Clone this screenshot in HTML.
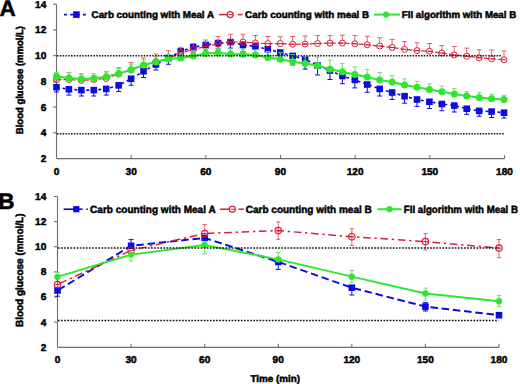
<!DOCTYPE html>
<html><head><meta charset="utf-8"><style>
html,body{margin:0;padding:0;background:#fff;width:520px;height:384px;overflow:hidden}
svg{display:block}
text{text-rendering:geometricPrecision;font-family:"Liberation Sans",sans-serif;font-weight:bold;stroke:#000;stroke-width:0.5px}
</style></head><body>
<svg width="520" height="384" viewBox="0 0 520 384">
<rect width="520" height="384" fill="#fff"/>
<text x="-0.5" y="15.7" font-size="22.5">A</text>
<text transform="translate(23.20,133.50) rotate(-90)" x="-0.64" y="0" font-size="10.0" textLength="108.11" lengthAdjust="spacingAndGlyphs">Blood glucose (mmol/L)</text>
<line x1="56.5" y1="4.2" x2="56.5" y2="158.6" stroke="#6e6e6e" stroke-width="1.1"/>
<line x1="56.5" y1="158.6" x2="504.5" y2="158.6" stroke="#6e6e6e" stroke-width="1.3"/>
<line x1="53.0" y1="4.2" x2="56.5" y2="4.2" stroke="#6e6e6e" stroke-width="1.1"/>
<line x1="53.0" y1="29.919999999999998" x2="56.5" y2="29.919999999999998" stroke="#6e6e6e" stroke-width="1.1"/>
<line x1="53.0" y1="55.64" x2="56.5" y2="55.64" stroke="#6e6e6e" stroke-width="1.1"/>
<line x1="53.0" y1="81.36" x2="56.5" y2="81.36" stroke="#6e6e6e" stroke-width="1.1"/>
<line x1="53.0" y1="107.08" x2="56.5" y2="107.08" stroke="#6e6e6e" stroke-width="1.1"/>
<line x1="53.0" y1="132.79999999999998" x2="56.5" y2="132.79999999999998" stroke="#6e6e6e" stroke-width="1.1"/>
<text x="46.3" y="7.65" text-anchor="end" font-size="9.9" textLength="11.22" lengthAdjust="spacingAndGlyphs">14</text>
<text x="46.3" y="33.37" text-anchor="end" font-size="9.9" textLength="11.22" lengthAdjust="spacingAndGlyphs">12</text>
<text x="46.3" y="59.09" text-anchor="end" font-size="9.9" textLength="11.22" lengthAdjust="spacingAndGlyphs">10</text>
<text x="46.3" y="84.81" text-anchor="end" font-size="9.9" textLength="5.61" lengthAdjust="spacingAndGlyphs">8</text>
<text x="46.3" y="110.53" text-anchor="end" font-size="9.9" textLength="5.61" lengthAdjust="spacingAndGlyphs">6</text>
<text x="46.3" y="136.25" text-anchor="end" font-size="9.9" textLength="5.61" lengthAdjust="spacingAndGlyphs">4</text>
<text x="46.3" y="161.97" text-anchor="end" font-size="9.9" textLength="5.61" lengthAdjust="spacingAndGlyphs">2</text>
<text x="56.50" y="175" text-anchor="middle" font-size="9.9" textLength="5.61" lengthAdjust="spacingAndGlyphs">0</text>
<line x1="131.17" y1="155.1" x2="131.17" y2="158.6" stroke="#6e6e6e" stroke-width="1.1"/>
<text x="131.17" y="175" text-anchor="middle" font-size="9.9" textLength="11.22" lengthAdjust="spacingAndGlyphs">30</text>
<line x1="205.83" y1="155.1" x2="205.83" y2="158.6" stroke="#6e6e6e" stroke-width="1.1"/>
<text x="205.83" y="175" text-anchor="middle" font-size="9.9" textLength="11.22" lengthAdjust="spacingAndGlyphs">60</text>
<line x1="280.50" y1="155.1" x2="280.50" y2="158.6" stroke="#6e6e6e" stroke-width="1.1"/>
<text x="280.50" y="175" text-anchor="middle" font-size="9.9" textLength="11.22" lengthAdjust="spacingAndGlyphs">90</text>
<line x1="355.17" y1="155.1" x2="355.17" y2="158.6" stroke="#6e6e6e" stroke-width="1.1"/>
<text x="355.17" y="175" text-anchor="middle" font-size="9.9" textLength="16.83" lengthAdjust="spacingAndGlyphs">120</text>
<line x1="429.83" y1="155.1" x2="429.83" y2="158.6" stroke="#6e6e6e" stroke-width="1.1"/>
<text x="429.83" y="175" text-anchor="middle" font-size="9.9" textLength="16.83" lengthAdjust="spacingAndGlyphs">150</text>
<line x1="504.50" y1="155.1" x2="504.50" y2="158.6" stroke="#6e6e6e" stroke-width="1.1"/>
<text x="504.50" y="175" text-anchor="middle" font-size="9.9" textLength="16.83" lengthAdjust="spacingAndGlyphs">180</text>
<line x1="56.50" y1="87.20" x2="56.50" y2="92.00" stroke="#0c0ce0" stroke-width="1"/>
<line x1="54.00" y1="92.00" x2="59.00" y2="92.00" stroke="#0c0ce0" stroke-width="1"/>
<line x1="68.93" y1="89.30" x2="68.93" y2="95.10" stroke="#0c0ce0" stroke-width="1"/>
<line x1="66.43" y1="95.10" x2="71.43" y2="95.10" stroke="#0c0ce0" stroke-width="1"/>
<line x1="81.36" y1="90.10" x2="81.36" y2="96.00" stroke="#0c0ce0" stroke-width="1"/>
<line x1="78.86" y1="96.00" x2="83.86" y2="96.00" stroke="#0c0ce0" stroke-width="1"/>
<line x1="93.79" y1="90.10" x2="93.79" y2="96.00" stroke="#0c0ce0" stroke-width="1"/>
<line x1="91.29" y1="96.00" x2="96.29" y2="96.00" stroke="#0c0ce0" stroke-width="1"/>
<line x1="106.22" y1="88.90" x2="106.22" y2="95.10" stroke="#0c0ce0" stroke-width="1"/>
<line x1="103.72" y1="95.10" x2="108.72" y2="95.10" stroke="#0c0ce0" stroke-width="1"/>
<line x1="118.65" y1="85.30" x2="118.65" y2="91.50" stroke="#0c0ce0" stroke-width="1"/>
<line x1="116.15" y1="91.50" x2="121.15" y2="91.50" stroke="#0c0ce0" stroke-width="1"/>
<line x1="131.08" y1="78.75" x2="131.08" y2="85.25" stroke="#0c0ce0" stroke-width="1"/>
<line x1="128.58" y1="85.25" x2="133.58" y2="85.25" stroke="#0c0ce0" stroke-width="1"/>
<line x1="143.51" y1="71.25" x2="143.51" y2="77.50" stroke="#0c0ce0" stroke-width="1"/>
<line x1="141.01" y1="77.50" x2="146.01" y2="77.50" stroke="#0c0ce0" stroke-width="1"/>
<line x1="155.94" y1="64.50" x2="155.94" y2="70.00" stroke="#0c0ce0" stroke-width="1"/>
<line x1="153.44" y1="70.00" x2="158.44" y2="70.00" stroke="#0c0ce0" stroke-width="1"/>
<line x1="168.38" y1="58.00" x2="168.38" y2="64.25" stroke="#0c0ce0" stroke-width="1"/>
<line x1="165.88" y1="64.25" x2="170.88" y2="64.25" stroke="#0c0ce0" stroke-width="1"/>
<line x1="180.81" y1="51.40" x2="180.81" y2="57.40" stroke="#0c0ce0" stroke-width="1"/>
<line x1="178.31" y1="57.40" x2="183.31" y2="57.40" stroke="#0c0ce0" stroke-width="1"/>
<line x1="193.24" y1="47.25" x2="193.24" y2="53.25" stroke="#0c0ce0" stroke-width="1"/>
<line x1="190.74" y1="53.25" x2="195.74" y2="53.25" stroke="#0c0ce0" stroke-width="1"/>
<line x1="205.67" y1="45.00" x2="205.67" y2="51.00" stroke="#0c0ce0" stroke-width="1"/>
<line x1="203.17" y1="51.00" x2="208.17" y2="51.00" stroke="#0c0ce0" stroke-width="1"/>
<line x1="218.10" y1="43.00" x2="218.10" y2="49.00" stroke="#0c0ce0" stroke-width="1"/>
<line x1="215.60" y1="49.00" x2="220.60" y2="49.00" stroke="#0c0ce0" stroke-width="1"/>
<line x1="230.53" y1="42.10" x2="230.53" y2="48.10" stroke="#0c0ce0" stroke-width="1"/>
<line x1="228.03" y1="48.10" x2="233.03" y2="48.10" stroke="#0c0ce0" stroke-width="1"/>
<line x1="242.96" y1="45.00" x2="242.96" y2="51.50" stroke="#0c0ce0" stroke-width="1"/>
<line x1="240.46" y1="51.50" x2="245.46" y2="51.50" stroke="#0c0ce0" stroke-width="1"/>
<line x1="255.39" y1="46.40" x2="255.39" y2="53.40" stroke="#0c0ce0" stroke-width="1"/>
<line x1="252.89" y1="53.40" x2="257.89" y2="53.40" stroke="#0c0ce0" stroke-width="1"/>
<line x1="267.82" y1="49.20" x2="267.82" y2="56.70" stroke="#0c0ce0" stroke-width="1"/>
<line x1="265.32" y1="56.70" x2="270.32" y2="56.70" stroke="#0c0ce0" stroke-width="1"/>
<line x1="280.25" y1="52.50" x2="280.25" y2="61.00" stroke="#0c0ce0" stroke-width="1"/>
<line x1="277.75" y1="61.00" x2="282.75" y2="61.00" stroke="#0c0ce0" stroke-width="1"/>
<line x1="292.68" y1="55.90" x2="292.68" y2="64.90" stroke="#0c0ce0" stroke-width="1"/>
<line x1="290.18" y1="64.90" x2="295.18" y2="64.90" stroke="#0c0ce0" stroke-width="1"/>
<line x1="305.11" y1="59.30" x2="305.11" y2="69.10" stroke="#0c0ce0" stroke-width="1"/>
<line x1="302.61" y1="69.10" x2="307.61" y2="69.10" stroke="#0c0ce0" stroke-width="1"/>
<line x1="317.54" y1="65.50" x2="317.54" y2="75.00" stroke="#0c0ce0" stroke-width="1"/>
<line x1="315.04" y1="75.00" x2="320.04" y2="75.00" stroke="#0c0ce0" stroke-width="1"/>
<line x1="329.97" y1="70.50" x2="329.97" y2="79.50" stroke="#0c0ce0" stroke-width="1"/>
<line x1="327.47" y1="79.50" x2="332.47" y2="79.50" stroke="#0c0ce0" stroke-width="1"/>
<line x1="342.40" y1="76.00" x2="342.40" y2="83.75" stroke="#0c0ce0" stroke-width="1"/>
<line x1="339.90" y1="83.75" x2="344.90" y2="83.75" stroke="#0c0ce0" stroke-width="1"/>
<line x1="354.83" y1="79.90" x2="354.83" y2="87.90" stroke="#0c0ce0" stroke-width="1"/>
<line x1="352.33" y1="87.90" x2="357.33" y2="87.90" stroke="#0c0ce0" stroke-width="1"/>
<line x1="367.26" y1="84.50" x2="367.26" y2="92.25" stroke="#0c0ce0" stroke-width="1"/>
<line x1="364.76" y1="92.25" x2="369.76" y2="92.25" stroke="#0c0ce0" stroke-width="1"/>
<line x1="379.69" y1="88.90" x2="379.69" y2="96.00" stroke="#0c0ce0" stroke-width="1"/>
<line x1="377.19" y1="96.00" x2="382.19" y2="96.00" stroke="#0c0ce0" stroke-width="1"/>
<line x1="392.12" y1="92.50" x2="392.12" y2="99.50" stroke="#0c0ce0" stroke-width="1"/>
<line x1="389.62" y1="99.50" x2="394.62" y2="99.50" stroke="#0c0ce0" stroke-width="1"/>
<line x1="404.56" y1="96.20" x2="404.56" y2="103.20" stroke="#0c0ce0" stroke-width="1"/>
<line x1="402.06" y1="103.20" x2="407.06" y2="103.20" stroke="#0c0ce0" stroke-width="1"/>
<line x1="416.99" y1="99.50" x2="416.99" y2="106.40" stroke="#0c0ce0" stroke-width="1"/>
<line x1="414.49" y1="106.40" x2="419.49" y2="106.40" stroke="#0c0ce0" stroke-width="1"/>
<line x1="429.42" y1="101.80" x2="429.42" y2="108.50" stroke="#0c0ce0" stroke-width="1"/>
<line x1="426.92" y1="108.50" x2="431.92" y2="108.50" stroke="#0c0ce0" stroke-width="1"/>
<line x1="441.85" y1="104.00" x2="441.85" y2="110.75" stroke="#0c0ce0" stroke-width="1"/>
<line x1="439.35" y1="110.75" x2="444.35" y2="110.75" stroke="#0c0ce0" stroke-width="1"/>
<line x1="454.28" y1="105.60" x2="454.28" y2="112.00" stroke="#0c0ce0" stroke-width="1"/>
<line x1="451.78" y1="112.00" x2="456.78" y2="112.00" stroke="#0c0ce0" stroke-width="1"/>
<line x1="466.71" y1="108.75" x2="466.71" y2="114.40" stroke="#0c0ce0" stroke-width="1"/>
<line x1="464.21" y1="114.40" x2="469.21" y2="114.40" stroke="#0c0ce0" stroke-width="1"/>
<line x1="479.14" y1="110.90" x2="479.14" y2="116.25" stroke="#0c0ce0" stroke-width="1"/>
<line x1="476.64" y1="116.25" x2="481.64" y2="116.25" stroke="#0c0ce0" stroke-width="1"/>
<line x1="491.57" y1="111.60" x2="491.57" y2="117.50" stroke="#0c0ce0" stroke-width="1"/>
<line x1="489.07" y1="117.50" x2="494.07" y2="117.50" stroke="#0c0ce0" stroke-width="1"/>
<line x1="504.00" y1="112.70" x2="504.00" y2="118.10" stroke="#0c0ce0" stroke-width="1"/>
<line x1="501.50" y1="118.10" x2="506.50" y2="118.10" stroke="#0c0ce0" stroke-width="1"/>
<polyline points="56.50,87.20 68.93,89.30 81.36,90.10 93.79,90.10 106.22,88.90 118.65,85.30 131.08,78.75 143.51,71.25 155.94,64.50 168.38,58.00 180.81,51.40 193.24,47.25 205.67,45.00 218.10,43.00 230.53,42.10 242.96,45.00 255.39,46.40 267.82,49.20 280.25,52.50 292.68,55.90 305.11,59.30 317.54,65.50 329.97,70.50 342.40,76.00 354.83,79.90 367.26,84.50 379.69,88.90 392.12,92.50 404.56,96.20 416.99,99.50 429.42,101.80 441.85,104.00 454.28,105.60 466.71,108.75 479.14,110.90 491.57,111.60 504.00,112.70" fill="none" stroke="#0c0ce0" stroke-width="1.6" stroke-dasharray="3 3"/>
<rect x="53.20" y="83.90" width="6.6" height="6.6" fill="#0c0ce0"/>
<rect x="65.63" y="86.00" width="6.6" height="6.6" fill="#0c0ce0"/>
<rect x="78.06" y="86.80" width="6.6" height="6.6" fill="#0c0ce0"/>
<rect x="90.49" y="86.80" width="6.6" height="6.6" fill="#0c0ce0"/>
<rect x="102.92" y="85.60" width="6.6" height="6.6" fill="#0c0ce0"/>
<rect x="115.35" y="82.00" width="6.6" height="6.6" fill="#0c0ce0"/>
<rect x="127.78" y="75.45" width="6.6" height="6.6" fill="#0c0ce0"/>
<rect x="140.21" y="67.95" width="6.6" height="6.6" fill="#0c0ce0"/>
<rect x="152.64" y="61.20" width="6.6" height="6.6" fill="#0c0ce0"/>
<rect x="165.07" y="54.70" width="6.6" height="6.6" fill="#0c0ce0"/>
<rect x="177.51" y="48.10" width="6.6" height="6.6" fill="#0c0ce0"/>
<rect x="189.94" y="43.95" width="6.6" height="6.6" fill="#0c0ce0"/>
<rect x="202.37" y="41.70" width="6.6" height="6.6" fill="#0c0ce0"/>
<rect x="214.80" y="39.70" width="6.6" height="6.6" fill="#0c0ce0"/>
<rect x="227.23" y="38.80" width="6.6" height="6.6" fill="#0c0ce0"/>
<rect x="239.66" y="41.70" width="6.6" height="6.6" fill="#0c0ce0"/>
<rect x="252.09" y="43.10" width="6.6" height="6.6" fill="#0c0ce0"/>
<rect x="264.52" y="45.90" width="6.6" height="6.6" fill="#0c0ce0"/>
<rect x="276.95" y="49.20" width="6.6" height="6.6" fill="#0c0ce0"/>
<rect x="289.38" y="52.60" width="6.6" height="6.6" fill="#0c0ce0"/>
<rect x="301.81" y="56.00" width="6.6" height="6.6" fill="#0c0ce0"/>
<rect x="314.24" y="62.20" width="6.6" height="6.6" fill="#0c0ce0"/>
<rect x="326.67" y="67.20" width="6.6" height="6.6" fill="#0c0ce0"/>
<rect x="339.10" y="72.70" width="6.6" height="6.6" fill="#0c0ce0"/>
<rect x="351.53" y="76.60" width="6.6" height="6.6" fill="#0c0ce0"/>
<rect x="363.96" y="81.20" width="6.6" height="6.6" fill="#0c0ce0"/>
<rect x="376.39" y="85.60" width="6.6" height="6.6" fill="#0c0ce0"/>
<rect x="388.82" y="89.20" width="6.6" height="6.6" fill="#0c0ce0"/>
<rect x="401.26" y="92.90" width="6.6" height="6.6" fill="#0c0ce0"/>
<rect x="413.69" y="96.20" width="6.6" height="6.6" fill="#0c0ce0"/>
<rect x="426.12" y="98.50" width="6.6" height="6.6" fill="#0c0ce0"/>
<rect x="438.55" y="100.70" width="6.6" height="6.6" fill="#0c0ce0"/>
<rect x="450.98" y="102.30" width="6.6" height="6.6" fill="#0c0ce0"/>
<rect x="463.41" y="105.45" width="6.6" height="6.6" fill="#0c0ce0"/>
<rect x="475.84" y="107.60" width="6.6" height="6.6" fill="#0c0ce0"/>
<rect x="488.27" y="108.30" width="6.6" height="6.6" fill="#0c0ce0"/>
<rect x="500.70" y="109.40" width="6.6" height="6.6" fill="#0c0ce0"/>
<line x1="56.50" y1="76.75" x2="56.50" y2="74.00" stroke="#e0505f" stroke-width="0.9"/>
<line x1="54.00" y1="74.00" x2="59.00" y2="74.00" stroke="#e0505f" stroke-width="0.9"/>
<line x1="68.93" y1="76.50" x2="68.93" y2="72.60" stroke="#e0505f" stroke-width="0.9"/>
<line x1="66.43" y1="72.60" x2="71.43" y2="72.60" stroke="#e0505f" stroke-width="0.9"/>
<line x1="81.36" y1="77.40" x2="81.36" y2="73.90" stroke="#e0505f" stroke-width="0.9"/>
<line x1="78.86" y1="73.90" x2="83.86" y2="73.90" stroke="#e0505f" stroke-width="0.9"/>
<line x1="93.79" y1="76.50" x2="93.79" y2="73.50" stroke="#e0505f" stroke-width="0.9"/>
<line x1="91.29" y1="73.50" x2="96.29" y2="73.50" stroke="#e0505f" stroke-width="0.9"/>
<line x1="106.22" y1="75.50" x2="106.22" y2="71.75" stroke="#e0505f" stroke-width="0.9"/>
<line x1="103.72" y1="71.75" x2="108.72" y2="71.75" stroke="#e0505f" stroke-width="0.9"/>
<line x1="118.65" y1="71.00" x2="118.65" y2="67.80" stroke="#e0505f" stroke-width="0.9"/>
<line x1="116.15" y1="67.80" x2="121.15" y2="67.80" stroke="#e0505f" stroke-width="0.9"/>
<line x1="131.08" y1="67.00" x2="131.08" y2="62.70" stroke="#e0505f" stroke-width="0.9"/>
<line x1="128.58" y1="62.70" x2="133.58" y2="62.70" stroke="#e0505f" stroke-width="0.9"/>
<line x1="143.51" y1="62.50" x2="143.51" y2="58.00" stroke="#e0505f" stroke-width="0.9"/>
<line x1="141.01" y1="58.00" x2="146.01" y2="58.00" stroke="#e0505f" stroke-width="0.9"/>
<line x1="155.94" y1="58.50" x2="155.94" y2="54.00" stroke="#e0505f" stroke-width="0.9"/>
<line x1="153.44" y1="54.00" x2="158.44" y2="54.00" stroke="#e0505f" stroke-width="0.9"/>
<line x1="168.38" y1="55.50" x2="168.38" y2="50.80" stroke="#e0505f" stroke-width="0.9"/>
<line x1="165.88" y1="50.80" x2="170.88" y2="50.80" stroke="#e0505f" stroke-width="0.9"/>
<line x1="180.81" y1="50.00" x2="180.81" y2="47.40" stroke="#e0505f" stroke-width="0.9"/>
<line x1="178.31" y1="47.40" x2="183.31" y2="47.40" stroke="#e0505f" stroke-width="0.9"/>
<line x1="193.24" y1="46.50" x2="193.24" y2="43.50" stroke="#e0505f" stroke-width="0.9"/>
<line x1="190.74" y1="43.50" x2="195.74" y2="43.50" stroke="#e0505f" stroke-width="0.9"/>
<line x1="205.67" y1="43.50" x2="205.67" y2="40.00" stroke="#e0505f" stroke-width="0.9"/>
<line x1="203.17" y1="40.00" x2="208.17" y2="40.00" stroke="#e0505f" stroke-width="0.9"/>
<line x1="218.10" y1="41.00" x2="218.10" y2="36.60" stroke="#e0505f" stroke-width="0.9"/>
<line x1="215.60" y1="36.60" x2="220.60" y2="36.60" stroke="#e0505f" stroke-width="0.9"/>
<line x1="230.53" y1="39.00" x2="230.53" y2="34.30" stroke="#e0505f" stroke-width="0.9"/>
<line x1="228.03" y1="34.30" x2="233.03" y2="34.30" stroke="#e0505f" stroke-width="0.9"/>
<line x1="242.96" y1="39.00" x2="242.96" y2="34.30" stroke="#e0505f" stroke-width="0.9"/>
<line x1="240.46" y1="34.30" x2="245.46" y2="34.30" stroke="#e0505f" stroke-width="0.9"/>
<line x1="255.39" y1="40.00" x2="255.39" y2="35.50" stroke="#e0505f" stroke-width="0.9"/>
<line x1="252.89" y1="35.50" x2="257.89" y2="35.50" stroke="#e0505f" stroke-width="0.9"/>
<line x1="267.82" y1="40.60" x2="267.82" y2="36.50" stroke="#e0505f" stroke-width="0.9"/>
<line x1="265.32" y1="36.50" x2="270.32" y2="36.50" stroke="#e0505f" stroke-width="0.9"/>
<line x1="280.25" y1="40.60" x2="280.25" y2="36.75" stroke="#e0505f" stroke-width="0.9"/>
<line x1="277.75" y1="36.75" x2="282.75" y2="36.75" stroke="#e0505f" stroke-width="0.9"/>
<line x1="292.68" y1="41.25" x2="292.68" y2="36.50" stroke="#e0505f" stroke-width="0.9"/>
<line x1="290.18" y1="36.50" x2="295.18" y2="36.50" stroke="#e0505f" stroke-width="0.9"/>
<line x1="305.11" y1="41.10" x2="305.11" y2="36.00" stroke="#e0505f" stroke-width="0.9"/>
<line x1="302.61" y1="36.00" x2="307.61" y2="36.00" stroke="#e0505f" stroke-width="0.9"/>
<line x1="317.54" y1="40.50" x2="317.54" y2="35.60" stroke="#e0505f" stroke-width="0.9"/>
<line x1="315.04" y1="35.60" x2="320.04" y2="35.60" stroke="#e0505f" stroke-width="0.9"/>
<line x1="329.97" y1="40.10" x2="329.97" y2="35.60" stroke="#e0505f" stroke-width="0.9"/>
<line x1="327.47" y1="35.60" x2="332.47" y2="35.60" stroke="#e0505f" stroke-width="0.9"/>
<line x1="342.40" y1="40.10" x2="342.40" y2="35.25" stroke="#e0505f" stroke-width="0.9"/>
<line x1="339.90" y1="35.25" x2="344.90" y2="35.25" stroke="#e0505f" stroke-width="0.9"/>
<line x1="354.83" y1="40.75" x2="354.83" y2="35.60" stroke="#e0505f" stroke-width="0.9"/>
<line x1="352.33" y1="35.60" x2="357.33" y2="35.60" stroke="#e0505f" stroke-width="0.9"/>
<line x1="367.26" y1="41.75" x2="367.26" y2="36.25" stroke="#e0505f" stroke-width="0.9"/>
<line x1="364.76" y1="36.25" x2="369.76" y2="36.25" stroke="#e0505f" stroke-width="0.9"/>
<line x1="379.69" y1="43.00" x2="379.69" y2="37.75" stroke="#e0505f" stroke-width="0.9"/>
<line x1="377.19" y1="37.75" x2="382.19" y2="37.75" stroke="#e0505f" stroke-width="0.9"/>
<line x1="392.12" y1="44.50" x2="392.12" y2="39.40" stroke="#e0505f" stroke-width="0.9"/>
<line x1="389.62" y1="39.40" x2="394.62" y2="39.40" stroke="#e0505f" stroke-width="0.9"/>
<line x1="404.56" y1="46.40" x2="404.56" y2="41.50" stroke="#e0505f" stroke-width="0.9"/>
<line x1="402.06" y1="41.50" x2="407.06" y2="41.50" stroke="#e0505f" stroke-width="0.9"/>
<line x1="416.99" y1="47.60" x2="416.99" y2="42.75" stroke="#e0505f" stroke-width="0.9"/>
<line x1="414.49" y1="42.75" x2="419.49" y2="42.75" stroke="#e0505f" stroke-width="0.9"/>
<line x1="429.42" y1="48.25" x2="429.42" y2="43.50" stroke="#e0505f" stroke-width="0.9"/>
<line x1="426.92" y1="43.50" x2="431.92" y2="43.50" stroke="#e0505f" stroke-width="0.9"/>
<line x1="441.85" y1="50.10" x2="441.85" y2="45.60" stroke="#e0505f" stroke-width="0.9"/>
<line x1="439.35" y1="45.60" x2="444.35" y2="45.60" stroke="#e0505f" stroke-width="0.9"/>
<line x1="454.28" y1="52.00" x2="454.28" y2="46.50" stroke="#e0505f" stroke-width="0.9"/>
<line x1="451.78" y1="46.50" x2="456.78" y2="46.50" stroke="#e0505f" stroke-width="0.9"/>
<line x1="466.71" y1="53.25" x2="466.71" y2="48.10" stroke="#e0505f" stroke-width="0.9"/>
<line x1="464.21" y1="48.10" x2="469.21" y2="48.10" stroke="#e0505f" stroke-width="0.9"/>
<line x1="479.14" y1="54.75" x2="479.14" y2="49.75" stroke="#e0505f" stroke-width="0.9"/>
<line x1="476.64" y1="49.75" x2="481.64" y2="49.75" stroke="#e0505f" stroke-width="0.9"/>
<line x1="491.57" y1="55.75" x2="491.57" y2="50.00" stroke="#e0505f" stroke-width="0.9"/>
<line x1="489.07" y1="50.00" x2="494.07" y2="50.00" stroke="#e0505f" stroke-width="0.9"/>
<line x1="504.00" y1="56.75" x2="504.00" y2="51.00" stroke="#e0505f" stroke-width="0.9"/>
<line x1="501.50" y1="51.00" x2="506.50" y2="51.00" stroke="#e0505f" stroke-width="0.9"/>
<polyline points="56.50,79.75 68.93,79.50 81.36,80.40 93.79,79.50 106.22,78.50 118.65,74.00 131.08,70.00 143.51,65.50 155.94,61.50 168.38,58.50 180.81,53.00 193.24,49.50 205.67,46.50 218.10,44.00 230.53,42.00 242.96,42.00 255.39,43.00 267.82,43.60 280.25,43.60 292.68,44.25 305.11,44.10 317.54,43.50 329.97,43.10 342.40,43.10 354.83,43.75 367.26,44.75 379.69,46.00 392.12,47.50 404.56,49.40 416.99,50.60 429.42,51.25 441.85,53.10 454.28,55.00 466.71,56.25 479.14,57.75 491.57,58.75 504.00,59.75" fill="none" stroke="#d8203a" stroke-width="1.2" stroke-dasharray="5 2"/>
<circle cx="56.50" cy="79.75" r="3.0" fill="none" stroke="#d8203a" stroke-width="1.0"/>
<line x1="54.30" y1="79.75" x2="58.70" y2="79.75" stroke="#d8203a" stroke-width="1"/>
<circle cx="68.93" cy="79.50" r="3.0" fill="none" stroke="#d8203a" stroke-width="1.0"/>
<line x1="66.73" y1="79.50" x2="71.13" y2="79.50" stroke="#d8203a" stroke-width="1"/>
<circle cx="81.36" cy="80.40" r="3.0" fill="none" stroke="#d8203a" stroke-width="1.0"/>
<line x1="79.16" y1="80.40" x2="83.56" y2="80.40" stroke="#d8203a" stroke-width="1"/>
<circle cx="93.79" cy="79.50" r="3.0" fill="none" stroke="#d8203a" stroke-width="1.0"/>
<line x1="91.59" y1="79.50" x2="95.99" y2="79.50" stroke="#d8203a" stroke-width="1"/>
<circle cx="106.22" cy="78.50" r="3.0" fill="none" stroke="#d8203a" stroke-width="1.0"/>
<line x1="104.02" y1="78.50" x2="108.42" y2="78.50" stroke="#d8203a" stroke-width="1"/>
<circle cx="118.65" cy="74.00" r="3.0" fill="none" stroke="#d8203a" stroke-width="1.0"/>
<line x1="116.45" y1="74.00" x2="120.85" y2="74.00" stroke="#d8203a" stroke-width="1"/>
<circle cx="131.08" cy="70.00" r="3.0" fill="none" stroke="#d8203a" stroke-width="1.0"/>
<line x1="128.88" y1="70.00" x2="133.28" y2="70.00" stroke="#d8203a" stroke-width="1"/>
<circle cx="143.51" cy="65.50" r="3.0" fill="none" stroke="#d8203a" stroke-width="1.0"/>
<line x1="141.31" y1="65.50" x2="145.71" y2="65.50" stroke="#d8203a" stroke-width="1"/>
<circle cx="155.94" cy="61.50" r="3.0" fill="none" stroke="#d8203a" stroke-width="1.0"/>
<line x1="153.74" y1="61.50" x2="158.14" y2="61.50" stroke="#d8203a" stroke-width="1"/>
<circle cx="168.38" cy="58.50" r="3.0" fill="none" stroke="#d8203a" stroke-width="1.0"/>
<line x1="166.18" y1="58.50" x2="170.57" y2="58.50" stroke="#d8203a" stroke-width="1"/>
<circle cx="180.81" cy="53.00" r="3.0" fill="none" stroke="#d8203a" stroke-width="1.0"/>
<line x1="178.61" y1="53.00" x2="183.01" y2="53.00" stroke="#d8203a" stroke-width="1"/>
<circle cx="193.24" cy="49.50" r="3.0" fill="none" stroke="#d8203a" stroke-width="1.0"/>
<line x1="191.04" y1="49.50" x2="195.44" y2="49.50" stroke="#d8203a" stroke-width="1"/>
<circle cx="205.67" cy="46.50" r="3.0" fill="none" stroke="#d8203a" stroke-width="1.0"/>
<line x1="203.47" y1="46.50" x2="207.87" y2="46.50" stroke="#d8203a" stroke-width="1"/>
<circle cx="218.10" cy="44.00" r="3.0" fill="none" stroke="#d8203a" stroke-width="1.0"/>
<line x1="215.90" y1="44.00" x2="220.30" y2="44.00" stroke="#d8203a" stroke-width="1"/>
<circle cx="230.53" cy="42.00" r="3.0" fill="none" stroke="#d8203a" stroke-width="1.0"/>
<line x1="228.33" y1="42.00" x2="232.73" y2="42.00" stroke="#d8203a" stroke-width="1"/>
<circle cx="242.96" cy="42.00" r="3.0" fill="none" stroke="#d8203a" stroke-width="1.0"/>
<line x1="240.76" y1="42.00" x2="245.16" y2="42.00" stroke="#d8203a" stroke-width="1"/>
<circle cx="255.39" cy="43.00" r="3.0" fill="none" stroke="#d8203a" stroke-width="1.0"/>
<line x1="253.19" y1="43.00" x2="257.59" y2="43.00" stroke="#d8203a" stroke-width="1"/>
<circle cx="267.82" cy="43.60" r="3.0" fill="none" stroke="#d8203a" stroke-width="1.0"/>
<line x1="265.62" y1="43.60" x2="270.02" y2="43.60" stroke="#d8203a" stroke-width="1"/>
<circle cx="280.25" cy="43.60" r="3.0" fill="none" stroke="#d8203a" stroke-width="1.0"/>
<line x1="278.05" y1="43.60" x2="282.45" y2="43.60" stroke="#d8203a" stroke-width="1"/>
<circle cx="292.68" cy="44.25" r="3.0" fill="none" stroke="#d8203a" stroke-width="1.0"/>
<line x1="290.48" y1="44.25" x2="294.88" y2="44.25" stroke="#d8203a" stroke-width="1"/>
<circle cx="305.11" cy="44.10" r="3.0" fill="none" stroke="#d8203a" stroke-width="1.0"/>
<line x1="302.91" y1="44.10" x2="307.31" y2="44.10" stroke="#d8203a" stroke-width="1"/>
<circle cx="317.54" cy="43.50" r="3.0" fill="none" stroke="#d8203a" stroke-width="1.0"/>
<line x1="315.34" y1="43.50" x2="319.74" y2="43.50" stroke="#d8203a" stroke-width="1"/>
<circle cx="329.97" cy="43.10" r="3.0" fill="none" stroke="#d8203a" stroke-width="1.0"/>
<line x1="327.77" y1="43.10" x2="332.17" y2="43.10" stroke="#d8203a" stroke-width="1"/>
<circle cx="342.40" cy="43.10" r="3.0" fill="none" stroke="#d8203a" stroke-width="1.0"/>
<line x1="340.20" y1="43.10" x2="344.60" y2="43.10" stroke="#d8203a" stroke-width="1"/>
<circle cx="354.83" cy="43.75" r="3.0" fill="none" stroke="#d8203a" stroke-width="1.0"/>
<line x1="352.63" y1="43.75" x2="357.03" y2="43.75" stroke="#d8203a" stroke-width="1"/>
<circle cx="367.26" cy="44.75" r="3.0" fill="none" stroke="#d8203a" stroke-width="1.0"/>
<line x1="365.06" y1="44.75" x2="369.46" y2="44.75" stroke="#d8203a" stroke-width="1"/>
<circle cx="379.69" cy="46.00" r="3.0" fill="none" stroke="#d8203a" stroke-width="1.0"/>
<line x1="377.49" y1="46.00" x2="381.89" y2="46.00" stroke="#d8203a" stroke-width="1"/>
<circle cx="392.12" cy="47.50" r="3.0" fill="none" stroke="#d8203a" stroke-width="1.0"/>
<line x1="389.93" y1="47.50" x2="394.32" y2="47.50" stroke="#d8203a" stroke-width="1"/>
<circle cx="404.56" cy="49.40" r="3.0" fill="none" stroke="#d8203a" stroke-width="1.0"/>
<line x1="402.36" y1="49.40" x2="406.76" y2="49.40" stroke="#d8203a" stroke-width="1"/>
<circle cx="416.99" cy="50.60" r="3.0" fill="none" stroke="#d8203a" stroke-width="1.0"/>
<line x1="414.79" y1="50.60" x2="419.19" y2="50.60" stroke="#d8203a" stroke-width="1"/>
<circle cx="429.42" cy="51.25" r="3.0" fill="none" stroke="#d8203a" stroke-width="1.0"/>
<line x1="427.22" y1="51.25" x2="431.62" y2="51.25" stroke="#d8203a" stroke-width="1"/>
<circle cx="441.85" cy="53.10" r="3.0" fill="none" stroke="#d8203a" stroke-width="1.0"/>
<line x1="439.65" y1="53.10" x2="444.05" y2="53.10" stroke="#d8203a" stroke-width="1"/>
<circle cx="454.28" cy="55.00" r="3.0" fill="none" stroke="#d8203a" stroke-width="1.0"/>
<line x1="452.08" y1="55.00" x2="456.48" y2="55.00" stroke="#d8203a" stroke-width="1"/>
<circle cx="466.71" cy="56.25" r="3.0" fill="none" stroke="#d8203a" stroke-width="1.0"/>
<line x1="464.51" y1="56.25" x2="468.91" y2="56.25" stroke="#d8203a" stroke-width="1"/>
<circle cx="479.14" cy="57.75" r="3.0" fill="none" stroke="#d8203a" stroke-width="1.0"/>
<line x1="476.94" y1="57.75" x2="481.34" y2="57.75" stroke="#d8203a" stroke-width="1"/>
<circle cx="491.57" cy="58.75" r="3.0" fill="none" stroke="#d8203a" stroke-width="1.0"/>
<line x1="489.37" y1="58.75" x2="493.77" y2="58.75" stroke="#d8203a" stroke-width="1"/>
<circle cx="504.00" cy="59.75" r="3.0" fill="none" stroke="#d8203a" stroke-width="1.0"/>
<line x1="501.80" y1="59.75" x2="506.20" y2="59.75" stroke="#d8203a" stroke-width="1"/>
<line x1="56.50" y1="76.40" x2="56.50" y2="72.40" stroke="#70e070" stroke-width="1"/>
<line x1="54.25" y1="72.40" x2="58.75" y2="72.40" stroke="#70e070" stroke-width="1"/>
<line x1="68.93" y1="78.00" x2="68.93" y2="72.60" stroke="#70e070" stroke-width="1"/>
<line x1="66.68" y1="72.60" x2="71.18" y2="72.60" stroke="#70e070" stroke-width="1"/>
<line x1="81.36" y1="78.90" x2="81.36" y2="73.90" stroke="#70e070" stroke-width="1"/>
<line x1="79.11" y1="73.90" x2="83.61" y2="73.90" stroke="#70e070" stroke-width="1"/>
<line x1="93.79" y1="78.25" x2="93.79" y2="73.50" stroke="#70e070" stroke-width="1"/>
<line x1="91.54" y1="73.50" x2="96.04" y2="73.50" stroke="#70e070" stroke-width="1"/>
<line x1="106.22" y1="76.75" x2="106.22" y2="71.75" stroke="#70e070" stroke-width="1"/>
<line x1="103.97" y1="71.75" x2="108.47" y2="71.75" stroke="#70e070" stroke-width="1"/>
<line x1="118.65" y1="73.60" x2="118.65" y2="68.60" stroke="#70e070" stroke-width="1"/>
<line x1="116.40" y1="68.60" x2="120.90" y2="68.60" stroke="#70e070" stroke-width="1"/>
<line x1="131.08" y1="69.70" x2="131.08" y2="64.70" stroke="#70e070" stroke-width="1"/>
<line x1="128.83" y1="64.70" x2="133.33" y2="64.70" stroke="#70e070" stroke-width="1"/>
<line x1="143.51" y1="65.00" x2="143.51" y2="60.00" stroke="#70e070" stroke-width="1"/>
<line x1="141.26" y1="60.00" x2="145.76" y2="60.00" stroke="#70e070" stroke-width="1"/>
<line x1="155.94" y1="61.90" x2="155.94" y2="56.90" stroke="#70e070" stroke-width="1"/>
<line x1="153.69" y1="56.90" x2="158.19" y2="56.90" stroke="#70e070" stroke-width="1"/>
<line x1="168.38" y1="59.00" x2="168.38" y2="54.00" stroke="#70e070" stroke-width="1"/>
<line x1="166.12" y1="54.00" x2="170.62" y2="54.00" stroke="#70e070" stroke-width="1"/>
<line x1="180.81" y1="58.00" x2="180.81" y2="53.00" stroke="#70e070" stroke-width="1"/>
<line x1="178.56" y1="53.00" x2="183.06" y2="53.00" stroke="#70e070" stroke-width="1"/>
<line x1="193.24" y1="56.10" x2="193.24" y2="51.10" stroke="#70e070" stroke-width="1"/>
<line x1="190.99" y1="51.10" x2="195.49" y2="51.10" stroke="#70e070" stroke-width="1"/>
<line x1="205.67" y1="53.60" x2="205.67" y2="48.60" stroke="#70e070" stroke-width="1"/>
<line x1="203.42" y1="48.60" x2="207.92" y2="48.60" stroke="#70e070" stroke-width="1"/>
<line x1="218.10" y1="53.00" x2="218.10" y2="48.00" stroke="#70e070" stroke-width="1"/>
<line x1="215.85" y1="48.00" x2="220.35" y2="48.00" stroke="#70e070" stroke-width="1"/>
<line x1="230.53" y1="53.90" x2="230.53" y2="48.90" stroke="#70e070" stroke-width="1"/>
<line x1="228.28" y1="48.90" x2="232.78" y2="48.90" stroke="#70e070" stroke-width="1"/>
<line x1="242.96" y1="54.25" x2="242.96" y2="49.25" stroke="#70e070" stroke-width="1"/>
<line x1="240.71" y1="49.25" x2="245.21" y2="49.25" stroke="#70e070" stroke-width="1"/>
<line x1="255.39" y1="54.90" x2="255.39" y2="49.90" stroke="#70e070" stroke-width="1"/>
<line x1="253.14" y1="49.90" x2="257.64" y2="49.90" stroke="#70e070" stroke-width="1"/>
<line x1="267.82" y1="57.40" x2="267.82" y2="51.40" stroke="#70e070" stroke-width="1"/>
<line x1="265.57" y1="51.40" x2="270.07" y2="51.40" stroke="#70e070" stroke-width="1"/>
<line x1="280.25" y1="59.30" x2="280.25" y2="52.80" stroke="#70e070" stroke-width="1"/>
<line x1="278.00" y1="52.80" x2="282.50" y2="52.80" stroke="#70e070" stroke-width="1"/>
<line x1="292.68" y1="61.70" x2="292.68" y2="54.70" stroke="#70e070" stroke-width="1"/>
<line x1="290.43" y1="54.70" x2="294.93" y2="54.70" stroke="#70e070" stroke-width="1"/>
<line x1="305.11" y1="63.60" x2="305.11" y2="56.60" stroke="#70e070" stroke-width="1"/>
<line x1="302.86" y1="56.60" x2="307.36" y2="56.60" stroke="#70e070" stroke-width="1"/>
<line x1="317.54" y1="65.60" x2="317.54" y2="57.20" stroke="#70e070" stroke-width="1"/>
<line x1="315.29" y1="57.20" x2="319.79" y2="57.20" stroke="#70e070" stroke-width="1"/>
<line x1="329.97" y1="69.20" x2="329.97" y2="60.20" stroke="#70e070" stroke-width="1"/>
<line x1="327.72" y1="60.20" x2="332.22" y2="60.20" stroke="#70e070" stroke-width="1"/>
<line x1="342.40" y1="71.75" x2="342.40" y2="63.55" stroke="#70e070" stroke-width="1"/>
<line x1="340.15" y1="63.55" x2="344.65" y2="63.55" stroke="#70e070" stroke-width="1"/>
<line x1="354.83" y1="74.45" x2="354.83" y2="67.05" stroke="#70e070" stroke-width="1"/>
<line x1="352.58" y1="67.05" x2="357.08" y2="67.05" stroke="#70e070" stroke-width="1"/>
<line x1="367.26" y1="77.00" x2="367.26" y2="69.50" stroke="#70e070" stroke-width="1"/>
<line x1="365.01" y1="69.50" x2="369.51" y2="69.50" stroke="#70e070" stroke-width="1"/>
<line x1="379.69" y1="80.10" x2="379.69" y2="72.60" stroke="#70e070" stroke-width="1"/>
<line x1="377.44" y1="72.60" x2="381.94" y2="72.60" stroke="#70e070" stroke-width="1"/>
<line x1="392.12" y1="82.00" x2="392.12" y2="75.75" stroke="#70e070" stroke-width="1"/>
<line x1="389.88" y1="75.75" x2="394.38" y2="75.75" stroke="#70e070" stroke-width="1"/>
<line x1="404.56" y1="85.00" x2="404.56" y2="78.90" stroke="#70e070" stroke-width="1"/>
<line x1="402.31" y1="78.90" x2="406.81" y2="78.90" stroke="#70e070" stroke-width="1"/>
<line x1="416.99" y1="87.25" x2="416.99" y2="81.40" stroke="#70e070" stroke-width="1"/>
<line x1="414.74" y1="81.40" x2="419.24" y2="81.40" stroke="#70e070" stroke-width="1"/>
<line x1="429.42" y1="89.50" x2="429.42" y2="83.90" stroke="#70e070" stroke-width="1"/>
<line x1="427.17" y1="83.90" x2="431.67" y2="83.90" stroke="#70e070" stroke-width="1"/>
<line x1="441.85" y1="91.75" x2="441.85" y2="86.00" stroke="#70e070" stroke-width="1"/>
<line x1="439.60" y1="86.00" x2="444.10" y2="86.00" stroke="#70e070" stroke-width="1"/>
<line x1="454.28" y1="93.90" x2="454.28" y2="88.50" stroke="#70e070" stroke-width="1"/>
<line x1="452.03" y1="88.50" x2="456.53" y2="88.50" stroke="#70e070" stroke-width="1"/>
<line x1="466.71" y1="96.00" x2="466.71" y2="91.50" stroke="#70e070" stroke-width="1"/>
<line x1="464.46" y1="91.50" x2="468.96" y2="91.50" stroke="#70e070" stroke-width="1"/>
<line x1="479.14" y1="97.50" x2="479.14" y2="92.50" stroke="#70e070" stroke-width="1"/>
<line x1="476.89" y1="92.50" x2="481.39" y2="92.50" stroke="#70e070" stroke-width="1"/>
<line x1="491.57" y1="98.75" x2="491.57" y2="94.40" stroke="#70e070" stroke-width="1"/>
<line x1="489.32" y1="94.40" x2="493.82" y2="94.40" stroke="#70e070" stroke-width="1"/>
<line x1="504.00" y1="99.40" x2="504.00" y2="95.25" stroke="#70e070" stroke-width="1"/>
<line x1="501.75" y1="95.25" x2="506.25" y2="95.25" stroke="#70e070" stroke-width="1"/>
<polyline points="56.50,76.40 68.93,78.00 81.36,78.90 93.79,78.25 106.22,76.75 118.65,73.60 131.08,69.70 143.51,65.00 155.94,61.90 168.38,59.00 180.81,58.00 193.24,56.10 205.67,53.60 218.10,53.00 230.53,53.90 242.96,54.25 255.39,54.90 267.82,57.40 280.25,59.30 292.68,61.70 305.11,63.60 317.54,65.60 329.97,69.20 342.40,71.75 354.83,74.45 367.26,77.00 379.69,80.10 392.12,82.00 404.56,85.00 416.99,87.25 429.42,89.50 441.85,91.75 454.28,93.90 466.71,96.00 479.14,97.50 491.57,98.75 504.00,99.40" fill="none" stroke="#2ee62e" stroke-width="2"/>
<circle cx="56.50" cy="76.40" r="3.5" fill="#2ee62e"/>
<circle cx="68.93" cy="78.00" r="3.5" fill="#2ee62e"/>
<circle cx="81.36" cy="78.90" r="3.5" fill="#2ee62e"/>
<circle cx="93.79" cy="78.25" r="3.5" fill="#2ee62e"/>
<circle cx="106.22" cy="76.75" r="3.5" fill="#2ee62e"/>
<circle cx="118.65" cy="73.60" r="3.5" fill="#2ee62e"/>
<circle cx="131.08" cy="69.70" r="3.5" fill="#2ee62e"/>
<circle cx="143.51" cy="65.00" r="3.5" fill="#2ee62e"/>
<circle cx="155.94" cy="61.90" r="3.5" fill="#2ee62e"/>
<circle cx="168.38" cy="59.00" r="3.5" fill="#2ee62e"/>
<circle cx="180.81" cy="58.00" r="3.5" fill="#2ee62e"/>
<circle cx="193.24" cy="56.10" r="3.5" fill="#2ee62e"/>
<circle cx="205.67" cy="53.60" r="3.5" fill="#2ee62e"/>
<circle cx="218.10" cy="53.00" r="3.5" fill="#2ee62e"/>
<circle cx="230.53" cy="53.90" r="3.5" fill="#2ee62e"/>
<circle cx="242.96" cy="54.25" r="3.5" fill="#2ee62e"/>
<circle cx="255.39" cy="54.90" r="3.5" fill="#2ee62e"/>
<circle cx="267.82" cy="57.40" r="3.5" fill="#2ee62e"/>
<circle cx="280.25" cy="59.30" r="3.5" fill="#2ee62e"/>
<circle cx="292.68" cy="61.70" r="3.5" fill="#2ee62e"/>
<circle cx="305.11" cy="63.60" r="3.5" fill="#2ee62e"/>
<circle cx="317.54" cy="65.60" r="3.5" fill="#2ee62e"/>
<circle cx="329.97" cy="69.20" r="3.5" fill="#2ee62e"/>
<circle cx="342.40" cy="71.75" r="3.5" fill="#2ee62e"/>
<circle cx="354.83" cy="74.45" r="3.5" fill="#2ee62e"/>
<circle cx="367.26" cy="77.00" r="3.5" fill="#2ee62e"/>
<circle cx="379.69" cy="80.10" r="3.5" fill="#2ee62e"/>
<circle cx="392.12" cy="82.00" r="3.5" fill="#2ee62e"/>
<circle cx="404.56" cy="85.00" r="3.5" fill="#2ee62e"/>
<circle cx="416.99" cy="87.25" r="3.5" fill="#2ee62e"/>
<circle cx="429.42" cy="89.50" r="3.5" fill="#2ee62e"/>
<circle cx="441.85" cy="91.75" r="3.5" fill="#2ee62e"/>
<circle cx="454.28" cy="93.90" r="3.5" fill="#2ee62e"/>
<circle cx="466.71" cy="96.00" r="3.5" fill="#2ee62e"/>
<circle cx="479.14" cy="97.50" r="3.5" fill="#2ee62e"/>
<circle cx="491.57" cy="98.75" r="3.5" fill="#2ee62e"/>
<circle cx="504.00" cy="99.40" r="3.5" fill="#2ee62e"/>
<line x1="57" y1="55.7" x2="502" y2="55.7" stroke="#111" stroke-width="1.6" stroke-dasharray="1.5 1.3"/>
<line x1="57" y1="133.7" x2="505" y2="133.7" stroke="#111" stroke-width="1.6" stroke-dasharray="1.5 1.3"/>
<line x1="64" y1="14.6" x2="88" y2="14.6" stroke="#0c0ce0" stroke-width="1.6" stroke-dasharray="3 3.3"/>
<rect x="73.10" y="11.30" width="6.6" height="6.6" fill="#0c0ce0"/>
<text x="91.60" y="17.50" font-size="9.8" textLength="122.41" lengthAdjust="spacingAndGlyphs">Carb counting with Meal A</text>
<line x1="219" y1="14.6" x2="227" y2="14.6" stroke="#d8203a" stroke-width="1.5"/>
<line x1="237.8" y1="14.6" x2="242.5" y2="14.6" stroke="#d8203a" stroke-width="1.5"/>
<circle cx="230.2" cy="14.6" r="3.0" fill="#fff" stroke="#d8203a" stroke-width="1.2"/>
<line x1="228.5" y1="14.6" x2="233" y2="14.6" stroke="#d8203a" stroke-width="1"/>
<text x="245.10" y="17.50" font-size="9.8" textLength="124.10" lengthAdjust="spacingAndGlyphs">Carb counting with meal B</text>
<line x1="374" y1="14.6" x2="400" y2="14.6" stroke="#2ee62e" stroke-width="2"/>
<circle cx="386.00" cy="14.60" r="3.1" fill="#2ee62e"/>
<text x="401.85" y="17.50" font-size="9.8" textLength="114.34" lengthAdjust="spacingAndGlyphs">FII algorithm with Meal B</text>
<text x="-1.8" y="208.5" font-size="22.5">B</text>
<text transform="translate(23.20,326.40) rotate(-90)" x="-0.67" y="0" font-size="10.4" textLength="113.56" lengthAdjust="spacingAndGlyphs">Blood glucose (mmol/L)</text>
<line x1="57.5" y1="196.5" x2="57.5" y2="347.3" stroke="#6e6e6e" stroke-width="1.1"/>
<line x1="57.5" y1="347.3" x2="499" y2="347.3" stroke="#6e6e6e" stroke-width="1.3"/>
<line x1="54.0" y1="196.5" x2="57.5" y2="196.5" stroke="#6e6e6e" stroke-width="1.1"/>
<line x1="54.0" y1="221.62" x2="57.5" y2="221.62" stroke="#6e6e6e" stroke-width="1.1"/>
<line x1="54.0" y1="246.74" x2="57.5" y2="246.74" stroke="#6e6e6e" stroke-width="1.1"/>
<line x1="54.0" y1="271.86" x2="57.5" y2="271.86" stroke="#6e6e6e" stroke-width="1.1"/>
<line x1="54.0" y1="296.98" x2="57.5" y2="296.98" stroke="#6e6e6e" stroke-width="1.1"/>
<line x1="54.0" y1="322.1" x2="57.5" y2="322.1" stroke="#6e6e6e" stroke-width="1.1"/>
<text x="46.3" y="199.95" text-anchor="end" font-size="9.9" textLength="11.22" lengthAdjust="spacingAndGlyphs">14</text>
<text x="46.3" y="225.07" text-anchor="end" font-size="9.9" textLength="11.22" lengthAdjust="spacingAndGlyphs">12</text>
<text x="46.3" y="250.19" text-anchor="end" font-size="9.9" textLength="11.22" lengthAdjust="spacingAndGlyphs">10</text>
<text x="46.3" y="275.31" text-anchor="end" font-size="9.9" textLength="5.61" lengthAdjust="spacingAndGlyphs">8</text>
<text x="46.3" y="300.43" text-anchor="end" font-size="9.9" textLength="5.61" lengthAdjust="spacingAndGlyphs">6</text>
<text x="46.3" y="325.55" text-anchor="end" font-size="9.9" textLength="5.61" lengthAdjust="spacingAndGlyphs">4</text>
<text x="46.3" y="350.67" text-anchor="end" font-size="9.9" textLength="5.61" lengthAdjust="spacingAndGlyphs">2</text>
<text x="57.50" y="363.1" text-anchor="middle" font-size="9.9" textLength="5.61" lengthAdjust="spacingAndGlyphs">0</text>
<line x1="131.08" y1="343.8" x2="131.08" y2="347.3" stroke="#6e6e6e" stroke-width="1.1"/>
<text x="131.08" y="363.1" text-anchor="middle" font-size="9.9" textLength="11.22" lengthAdjust="spacingAndGlyphs">30</text>
<line x1="204.67" y1="343.8" x2="204.67" y2="347.3" stroke="#6e6e6e" stroke-width="1.1"/>
<text x="204.67" y="363.1" text-anchor="middle" font-size="9.9" textLength="11.22" lengthAdjust="spacingAndGlyphs">60</text>
<line x1="278.25" y1="343.8" x2="278.25" y2="347.3" stroke="#6e6e6e" stroke-width="1.1"/>
<text x="278.25" y="363.1" text-anchor="middle" font-size="9.9" textLength="11.22" lengthAdjust="spacingAndGlyphs">90</text>
<line x1="351.83" y1="343.8" x2="351.83" y2="347.3" stroke="#6e6e6e" stroke-width="1.1"/>
<text x="351.83" y="363.1" text-anchor="middle" font-size="9.9" textLength="16.83" lengthAdjust="spacingAndGlyphs">120</text>
<line x1="425.42" y1="343.8" x2="425.42" y2="347.3" stroke="#6e6e6e" stroke-width="1.1"/>
<text x="425.42" y="363.1" text-anchor="middle" font-size="9.9" textLength="16.83" lengthAdjust="spacingAndGlyphs">150</text>
<line x1="499.00" y1="343.8" x2="499.00" y2="347.3" stroke="#6e6e6e" stroke-width="1.1"/>
<text x="499.00" y="363.1" text-anchor="middle" font-size="9.9" textLength="16.83" lengthAdjust="spacingAndGlyphs">180</text>
<text x="250.49" y="381.50" font-size="9.8" textLength="49.60" lengthAdjust="spacingAndGlyphs">Time (min)</text>
<line x1="57.50" y1="290.50" x2="57.50" y2="296.20" stroke="#0c0ce0" stroke-width="1"/>
<line x1="55.00" y1="296.20" x2="60.00" y2="296.20" stroke="#0c0ce0" stroke-width="1"/>
<line x1="131.08" y1="245.80" x2="131.08" y2="239.60" stroke="#0c0ce0" stroke-width="1"/>
<line x1="128.58" y1="239.60" x2="133.58" y2="239.60" stroke="#0c0ce0" stroke-width="1"/>
<line x1="278.25" y1="261.90" x2="278.25" y2="269.40" stroke="#0c0ce0" stroke-width="1"/>
<line x1="275.75" y1="269.40" x2="280.75" y2="269.40" stroke="#0c0ce0" stroke-width="1"/>
<line x1="351.83" y1="287.70" x2="351.83" y2="295.00" stroke="#0c0ce0" stroke-width="1"/>
<line x1="349.33" y1="295.00" x2="354.33" y2="295.00" stroke="#0c0ce0" stroke-width="1"/>
<line x1="425.42" y1="306.60" x2="425.42" y2="302.60" stroke="#0c0ce0" stroke-width="1"/>
<line x1="422.92" y1="302.60" x2="427.92" y2="302.60" stroke="#0c0ce0" stroke-width="1"/>
<line x1="425.42" y1="306.60" x2="425.42" y2="311.00" stroke="#0c0ce0" stroke-width="1"/>
<line x1="422.92" y1="311.00" x2="427.92" y2="311.00" stroke="#0c0ce0" stroke-width="1"/>
<polyline points="57.50,290.50 131.08,245.80 204.67,237.90 278.25,261.90 351.83,287.70 425.42,306.60 499.00,315.20" fill="none" stroke="#0c0ce0" stroke-width="2" stroke-dasharray="7.5 3.8" stroke-dashoffset="10.34"/>
<rect x="54.20" y="287.20" width="6.6" height="6.6" fill="#0c0ce0"/>
<rect x="127.78" y="242.50" width="6.6" height="6.6" fill="#0c0ce0"/>
<rect x="201.37" y="234.60" width="6.6" height="6.6" fill="#0c0ce0"/>
<rect x="274.95" y="258.60" width="6.6" height="6.6" fill="#0c0ce0"/>
<rect x="348.53" y="284.40" width="6.6" height="6.6" fill="#0c0ce0"/>
<rect x="422.12" y="303.30" width="6.6" height="6.6" fill="#0c0ce0"/>
<rect x="495.70" y="311.90" width="6.6" height="6.6" fill="#0c0ce0"/>
<line x1="204.67" y1="233.50" x2="204.67" y2="224.50" stroke="#e0505f" stroke-width="0.9"/>
<line x1="202.67" y1="224.50" x2="206.67" y2="224.50" stroke="#e0505f" stroke-width="0.9"/>
<line x1="278.25" y1="230.60" x2="278.25" y2="221.90" stroke="#e0505f" stroke-width="0.9"/>
<line x1="276.25" y1="221.90" x2="280.25" y2="221.90" stroke="#e0505f" stroke-width="0.9"/>
<line x1="278.25" y1="230.60" x2="278.25" y2="239.40" stroke="#e0505f" stroke-width="0.9"/>
<line x1="276.25" y1="239.40" x2="280.25" y2="239.40" stroke="#e0505f" stroke-width="0.9"/>
<line x1="351.83" y1="236.70" x2="351.83" y2="228.70" stroke="#e0505f" stroke-width="0.9"/>
<line x1="349.83" y1="228.70" x2="353.83" y2="228.70" stroke="#e0505f" stroke-width="0.9"/>
<line x1="351.83" y1="236.70" x2="351.83" y2="245.40" stroke="#e0505f" stroke-width="0.9"/>
<line x1="349.83" y1="245.40" x2="353.83" y2="245.40" stroke="#e0505f" stroke-width="0.9"/>
<line x1="425.42" y1="241.60" x2="425.42" y2="233.50" stroke="#e0505f" stroke-width="0.9"/>
<line x1="423.42" y1="233.50" x2="427.42" y2="233.50" stroke="#e0505f" stroke-width="0.9"/>
<line x1="425.42" y1="241.60" x2="425.42" y2="250.00" stroke="#e0505f" stroke-width="0.9"/>
<line x1="423.42" y1="250.00" x2="427.42" y2="250.00" stroke="#e0505f" stroke-width="0.9"/>
<line x1="499.00" y1="248.10" x2="499.00" y2="239.50" stroke="#e0505f" stroke-width="0.9"/>
<line x1="497.00" y1="239.50" x2="501.00" y2="239.50" stroke="#e0505f" stroke-width="0.9"/>
<line x1="499.00" y1="248.10" x2="499.00" y2="257.80" stroke="#e0505f" stroke-width="0.9"/>
<line x1="497.00" y1="257.80" x2="501.00" y2="257.80" stroke="#e0505f" stroke-width="0.9"/>
<polyline points="57.50,284.50 131.08,250.40 204.67,233.50 278.25,230.60 351.83,236.70 425.42,241.60 499.00,248.10" fill="none" stroke="#d8203a" stroke-width="1.5" stroke-dasharray="7.7 3.7 2.4 3.6" stroke-dashoffset="15.30"/>
<circle cx="57.50" cy="284.50" r="3.2" fill="none" stroke="#d8203a" stroke-width="1.15"/>
<line x1="55.30" y1="284.50" x2="59.70" y2="284.50" stroke="#d8203a" stroke-width="1"/>
<circle cx="131.08" cy="250.40" r="3.2" fill="none" stroke="#d8203a" stroke-width="1.15"/>
<line x1="128.88" y1="250.40" x2="133.28" y2="250.40" stroke="#d8203a" stroke-width="1"/>
<circle cx="204.67" cy="233.50" r="3.2" fill="none" stroke="#d8203a" stroke-width="1.15"/>
<line x1="202.47" y1="233.50" x2="206.87" y2="233.50" stroke="#d8203a" stroke-width="1"/>
<circle cx="278.25" cy="230.60" r="3.2" fill="none" stroke="#d8203a" stroke-width="1.15"/>
<line x1="276.05" y1="230.60" x2="280.45" y2="230.60" stroke="#d8203a" stroke-width="1"/>
<circle cx="351.83" cy="236.70" r="3.2" fill="none" stroke="#d8203a" stroke-width="1.15"/>
<line x1="349.63" y1="236.70" x2="354.03" y2="236.70" stroke="#d8203a" stroke-width="1"/>
<circle cx="425.42" cy="241.60" r="3.2" fill="none" stroke="#d8203a" stroke-width="1.15"/>
<line x1="423.22" y1="241.60" x2="427.62" y2="241.60" stroke="#d8203a" stroke-width="1"/>
<circle cx="499.00" cy="248.10" r="3.2" fill="none" stroke="#d8203a" stroke-width="1.15"/>
<line x1="496.80" y1="248.10" x2="501.20" y2="248.10" stroke="#d8203a" stroke-width="1"/>
<line x1="57.50" y1="276.90" x2="57.50" y2="272.30" stroke="#70e070" stroke-width="1"/>
<line x1="55.25" y1="272.30" x2="59.75" y2="272.30" stroke="#70e070" stroke-width="1"/>
<line x1="131.08" y1="254.60" x2="131.08" y2="260.90" stroke="#70e070" stroke-width="1"/>
<line x1="128.83" y1="260.90" x2="133.33" y2="260.90" stroke="#70e070" stroke-width="1"/>
<line x1="204.67" y1="245.00" x2="204.67" y2="253.75" stroke="#70e070" stroke-width="1"/>
<line x1="202.42" y1="253.75" x2="206.92" y2="253.75" stroke="#70e070" stroke-width="1"/>
<line x1="278.25" y1="259.40" x2="278.25" y2="252.50" stroke="#70e070" stroke-width="1"/>
<line x1="276.00" y1="252.50" x2="280.50" y2="252.50" stroke="#70e070" stroke-width="1"/>
<line x1="351.83" y1="276.70" x2="351.83" y2="270.40" stroke="#70e070" stroke-width="1"/>
<line x1="349.58" y1="270.40" x2="354.08" y2="270.40" stroke="#70e070" stroke-width="1"/>
<line x1="351.83" y1="276.70" x2="351.83" y2="282.50" stroke="#70e070" stroke-width="1"/>
<line x1="349.58" y1="282.50" x2="354.08" y2="282.50" stroke="#70e070" stroke-width="1"/>
<line x1="425.42" y1="293.50" x2="425.42" y2="288.10" stroke="#70e070" stroke-width="1"/>
<line x1="423.17" y1="288.10" x2="427.67" y2="288.10" stroke="#70e070" stroke-width="1"/>
<line x1="425.42" y1="293.50" x2="425.42" y2="300.00" stroke="#70e070" stroke-width="1"/>
<line x1="423.17" y1="300.00" x2="427.67" y2="300.00" stroke="#70e070" stroke-width="1"/>
<line x1="499.00" y1="301.25" x2="499.00" y2="295.55" stroke="#70e070" stroke-width="1"/>
<line x1="496.75" y1="295.55" x2="501.25" y2="295.55" stroke="#70e070" stroke-width="1"/>
<line x1="499.00" y1="301.25" x2="499.00" y2="306.25" stroke="#70e070" stroke-width="1"/>
<line x1="496.75" y1="306.25" x2="501.25" y2="306.25" stroke="#70e070" stroke-width="1"/>
<polyline points="57.50,276.90 131.08,254.60 204.67,245.00 278.25,259.40 351.83,276.70 425.42,293.50 499.00,301.25" fill="none" stroke="#2ee62e" stroke-width="1.9"/>
<circle cx="57.50" cy="276.90" r="3.15" fill="#2ee62e"/>
<circle cx="131.08" cy="254.60" r="3.15" fill="#2ee62e"/>
<circle cx="204.67" cy="245.00" r="3.15" fill="#2ee62e"/>
<circle cx="278.25" cy="259.40" r="3.15" fill="#2ee62e"/>
<circle cx="351.83" cy="276.70" r="3.15" fill="#2ee62e"/>
<circle cx="425.42" cy="293.50" r="3.15" fill="#2ee62e"/>
<circle cx="499.00" cy="301.25" r="3.15" fill="#2ee62e"/>
<line x1="58" y1="248.0" x2="498.5" y2="248.0" stroke="#111" stroke-width="1.6" stroke-dasharray="1.7 1.4"/>
<line x1="58" y1="320.5" x2="498.5" y2="320.5" stroke="#111" stroke-width="1.6" stroke-dasharray="1.7 1.4"/>
<line x1="63.6" y1="209.2" x2="82.6" y2="209.2" stroke="#0c0ce0" stroke-width="1.6"/>
<line x1="86.3" y1="209.2" x2="87.9" y2="209.2" stroke="#0c0ce0" stroke-width="1.4"/>
<rect x="73.20" y="206.10" width="6.2" height="6.2" fill="#0c0ce0"/>
<text x="90.09" y="212.50" font-size="10.388000000000002" textLength="125.57" lengthAdjust="spacingAndGlyphs">Carb counting with Meal A</text>
<line x1="220" y1="209.2" x2="229.3" y2="209.2" stroke="#d8203a" stroke-width="1.5"/>
<line x1="238.5" y1="209.2" x2="243.8" y2="209.2" stroke="#d8203a" stroke-width="1.5"/>
<circle cx="232.3" cy="209.2" r="3.0" fill="#fff" stroke="#d8203a" stroke-width="1.2"/>
<line x1="230.5" y1="209.2" x2="235" y2="209.2" stroke="#d8203a" stroke-width="1"/>
<text x="245.84" y="212.50" font-size="10.388000000000002" textLength="125.86" lengthAdjust="spacingAndGlyphs">Carb counting with meal B</text>
<line x1="377.5" y1="209.2" x2="401.5" y2="209.2" stroke="#2ee62e" stroke-width="2"/>
<circle cx="389.50" cy="209.20" r="3.1" fill="#2ee62e"/>
<text x="403.85" y="212.50" font-size="10.388000000000002" textLength="114.09" lengthAdjust="spacingAndGlyphs">FII algorithm with Meal B</text>
</svg>
</body></html>
